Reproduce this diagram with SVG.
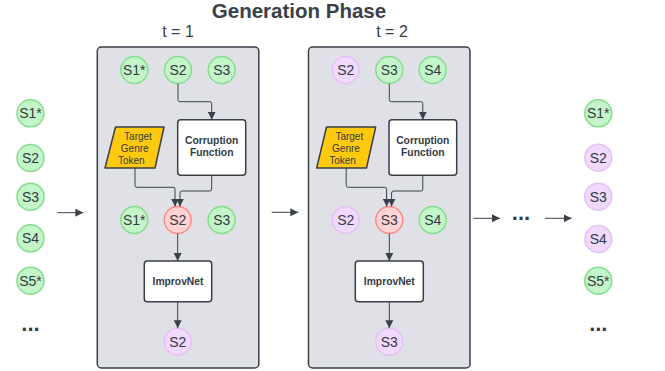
<svg xmlns="http://www.w3.org/2000/svg" width="665" height="371" viewBox="0 0 665 371">
<defs>
<marker id="ah" viewBox="0 0 10 10" refX="10" refY="5" markerWidth="8" markerHeight="8" markerUnits="userSpaceOnUse" orient="auto">
<path d="M0,0 L10,5 L0,10 z" fill="#3a414a"/>
</marker>
<style>
.panel{fill:#dfe1e6;stroke:#3a3f47;stroke-width:1.5}
.g{fill:#c3f5c8;stroke:#86dc8f;stroke-width:1.5}
.p{fill:#f0d9fc;stroke:#e4c2f5;stroke-width:1.5}
.r{fill:#ffd3d3;stroke:#ff8a8a;stroke-width:1.5}
.ct{font-family:"Liberation Sans",Arial,sans-serif;font-size:14px;fill:#333a45;text-anchor:middle;dominant-baseline:central}
.box{fill:#ffffff;stroke:#3a3f47;stroke-width:1.5}
.bt{font-family:"Liberation Sans",Arial,sans-serif;font-size:10.3px;font-weight:bold;fill:#333a45;text-anchor:middle}
.tok{fill:#ffc90e;stroke:#3a3f47;stroke-width:1.5}
.tt{font-family:"Liberation Sans",Arial,sans-serif;font-size:10px;fill:#333a45;text-anchor:middle}
.ln{fill:none;stroke:#3a414a;stroke-width:1;marker-end:url(#ah)}
.dots{font-family:"Liberation Sans",Arial,sans-serif;font-size:22px;font-weight:bold;fill:#333a45;text-anchor:middle}
.hd{font-family:"Liberation Sans",Arial,sans-serif;fill:#3a414a;text-anchor:middle}
</style>
</defs>
<g id="title"><text class="hd" x="299" y="17.5" font-size="20.5" font-weight="bold">Generation Phase</text></g>
<g id="t1"><text class="hd" x="178" y="36.5" font-size="16">t = 1</text></g>
<g id="t2"><text class="hd" x="392" y="36.5" font-size="16">t = 2</text></g>
<g id="panel1"><rect class="panel" x="97.3" y="47" width="161.5" height="321" rx="4"/></g>
<g id="panel2"><rect class="panel" x="308.5" y="47" width="161.5" height="321" rx="4"/></g>

<g id="left-col">
<g id="l1"><circle class="g" cx="30.5" cy="113.3" r="13.5"/><text class="ct" x="30.5" y="113.3">S1*</text></g>
<g id="l2"><circle class="g" cx="30.5" cy="158" r="13.5"/><text class="ct" x="30.5" y="158">S2</text></g>
<g id="l3"><circle class="g" cx="30.5" cy="196.7" r="13.5"/><text class="ct" x="30.5" y="196.7">S3</text></g>
<g id="l4"><circle class="g" cx="30.5" cy="238.3" r="13.5"/><text class="ct" x="30.5" y="238.3">S4</text></g>
<g id="l5"><circle class="g" cx="30.5" cy="280.7" r="13.5"/><text class="ct" x="30.5" y="280.7">S5*</text></g>
<g id="l6"><text class="dots" x="30.5" y="331">...</text></g>
</g>

<g id="p1-top">
<g id="p1a"><circle class="g" cx="134.3" cy="70" r="13.5"/><text class="ct" x="134.3" y="70">S1*</text></g>
<g id="p1b"><circle class="g" cx="178" cy="70" r="13.5"/><text class="ct" x="178" y="70">S2</text></g>
<g id="p1c"><circle class="g" cx="221.7" cy="70" r="13.5"/><text class="ct" x="221.7" y="70">S3</text></g>
</g>
<g id="p1-token"><path class="tok" d="M115.5,127 H164 L155,168 H105 Z" stroke-linejoin="round"/>
<text class="tt" x="138" y="139.5">Target</text><text class="tt" x="134.7" y="152">Genre</text><text class="tt" x="131.3" y="164.3">Token</text></g>
<g id="p1-corrupt"><rect class="box" x="177.7" y="119.7" width="68" height="55.6" rx="3"/>
<text class="bt" x="211.7" y="143.7">Corruption</text><text class="bt" x="211.7" y="156.3">Function</text></g>
<g id="p1-mid">
<g id="p1d"><circle class="g" cx="134.3" cy="220" r="13.5"/><text class="ct" x="134.3" y="220">S1*</text></g>
<g id="p1e"><circle class="r" cx="177.7" cy="220" r="13.5"/><text class="ct" x="177.7" y="220">S2</text></g>
<g id="p1f"><circle class="g" cx="221.7" cy="220" r="13.5"/><text class="ct" x="221.7" y="220">S3</text></g>
</g>
<g id="p1-improv"><rect class="box" x="144.3" y="261" width="67.4" height="40.7" rx="3"/><text class="bt" x="178" y="285">ImprovNet</text></g>
<g id="p1-out"><circle class="p" cx="177.7" cy="341.7" r="13.5"/><text class="ct" x="177.7" y="341.7">S2</text></g>

<g id="p2-top">
<g id="p2a"><circle class="p" cx="345.7" cy="70" r="13.5"/><text class="ct" x="345.7" y="70">S2</text></g>
<g id="p2b"><circle class="g" cx="389.3" cy="70" r="13.5"/><text class="ct" x="389.3" y="70">S3</text></g>
<g id="p2c"><circle class="g" cx="432.7" cy="70" r="13.5"/><text class="ct" x="432.7" y="70">S4</text></g>
</g>
<g id="p2-token"><path class="tok" d="M326.5,127 H375.7 L366.5,168 H316.7 Z" stroke-linejoin="round"/>
<text class="tt" x="349.3" y="139.5">Target</text><text class="tt" x="346" y="152">Genre</text><text class="tt" x="342.5" y="164.3">Token</text></g>
<g id="p2-corrupt"><rect class="box" x="389" y="119.7" width="67.7" height="55.6" rx="3"/>
<text class="bt" x="422.8" y="143.7">Corruption</text><text class="bt" x="422.8" y="156.3">Function</text></g>
<g id="p2-mid">
<g id="p2d"><circle class="p" cx="345.7" cy="220" r="13.5"/><text class="ct" x="345.7" y="220">S2</text></g>
<g id="p2e"><circle class="r" cx="389.3" cy="220" r="13.5"/><text class="ct" x="389.3" y="220">S3</text></g>
<g id="p2f"><circle class="g" cx="432.7" cy="220" r="13.5"/><text class="ct" x="432.7" y="220">S4</text></g>
</g>
<g id="p2-improv"><rect class="box" x="355.3" y="261" width="68" height="40.7" rx="3"/><text class="bt" x="389.3" y="285">ImprovNet</text></g>
<g id="p2-out"><circle class="p" cx="389.3" cy="341.7" r="13.5"/><text class="ct" x="389.3" y="341.7">S3</text></g>

<g id="mid-dots"><text class="dots" x="521" y="219.5">...</text></g>

<g id="right-col">
<g id="r1"><circle class="g" cx="598.3" cy="113.3" r="13.5"/><text class="ct" x="598.3" y="113.3">S1*</text></g>
<g id="r2"><circle class="p" cx="598.3" cy="157.7" r="13.5"/><text class="ct" x="598.3" y="157.7">S2</text></g>
<g id="r3"><circle class="p" cx="598.3" cy="196.7" r="13.5"/><text class="ct" x="598.3" y="196.7">S3</text></g>
<g id="r4"><circle class="p" cx="598.3" cy="239" r="13.5"/><text class="ct" x="598.3" y="239">S4</text></g>
<g id="r5"><circle class="g" cx="598.3" cy="280.7" r="13.5"/><text class="ct" x="598.3" y="280.7">S5*</text></g>
<g id="r6"><text class="dots" x="598.3" y="331">...</text></g>
</g>

<g id="connectors">
<path class="ln" d="M57.3,212.7 H83.3"/>
<path class="ln" d="M271.7,212.3 H298.3"/>
<path class="ln" d="M473.3,218.3 H500"/>
<path class="ln" d="M545,218.3 H571.7"/>
<path class="ln" d="M178,83.5 V99.7 Q178,101.7 180,101.7 H209.7 Q211.7,101.7 211.7,103.7 V119.7"/>
<path class="ln" d="M135,168 V185.3 Q135,187.3 137,187.3 H173 Q175,187.3 175,189.3 V206.5"/>
<path class="ln" d="M211.7,175.3 V189 Q211.7,191 209.7,191 H182 Q180,191 180,193 V206.5"/>
<path class="ln" d="M177.7,233.5 V261"/>
<path class="ln" d="M177.7,301.7 V328.2"/>
<path class="ln" d="M389.3,83.5 V99.7 Q389.3,101.7 391.3,101.7 H420.8 Q422.8,101.7 422.8,103.7 V119.7"/>
<path class="ln" d="M346.2,168 V185.3 Q346.2,187.3 348.2,187.3 H384.6 Q386.6,187.3 386.6,189.3 V206.5"/>
<path class="ln" d="M422.8,175.3 V189 Q422.8,191 420.8,191 H393.6 Q391.6,191 391.6,193 V206.5"/>
<path class="ln" d="M389.3,233.5 V261"/>
<path class="ln" d="M389.3,301.7 V328.2"/>
</g>
</svg>
